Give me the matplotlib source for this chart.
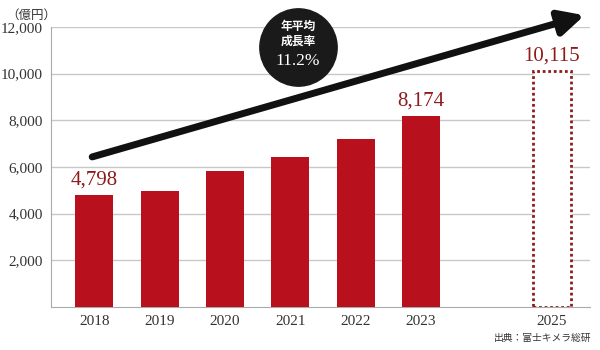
import matplotlib
matplotlib.use('Agg')
import matplotlib.pyplot as plt

# データ（億円）
years = ['2018', '2019', '2020', '2021', '2022', '2023', '2025']
positions = [0, 1, 2, 3, 4, 5, 7]
values = [4798, 4970, 5830, 6420, 7180, 8174, 10115]
labels = {0: '4,798', 5: '8,174', 6: '10,115'}
yticks = [2000, 4000, 6000, 8000, 10000, 12000]

red = '#b8101c'
label_red = '#8e1b1b'
serif = ['Liberation Serif', 'DejaVu Serif']
jp = ['Noto Sans CJK JP', 'DejaVu Sans']

fig = plt.figure(figsize=(6, 3.5), dpi=100)
ax = fig.add_axes([0.085, 0.123, 0.898, 0.8])

# 実績
ax.bar(positions[:-1], values[:-1], width=0.58, color=red, zorder=3)
# 予測（点線）
ax.bar(positions[-1], values[-1], width=0.58, facecolor='white',
       edgecolor=label_red, linestyle=(0, (1, 1)), linewidth=2, zorder=3)

for i, txt in labels.items():
    ax.text(positions[i], values[i] + 250, txt, ha='center', va='bottom',
            fontsize=15, color=label_red, family=serif)

ax.set_xlim(-0.66, 7.58)
ax.set_ylim(0, 12000)
ax.set_yticks(yticks)
ax.set_yticklabels([f'{v:,}' for v in yticks], family=serif, fontsize=11)
ax.set_xticks(positions)
ax.set_xticklabels(years, family=serif, fontsize=11)
ax.tick_params(length=0, pad=6, colors='#333333')
ax.grid(axis='y', color='#c8c8c8', linewidth=1, zorder=0)
for s in ['top', 'right']:
    ax.spines[s].set_visible(False)
for s in ['left', 'bottom']:
    ax.spines[s].set_color('#aaaaaa')

# 成長矢印
ax.annotate('', xy=(7.5, 12500), xytext=(-0.03, 6430),
            arrowprops=dict(arrowstyle='-|>,head_length=1.5,head_width=0.75',
                            color='#111111', lw=5, shrinkA=0, shrinkB=0),
            annotation_clip=False, zorder=5)

# 年平均成長率の円
ax.scatter([3.12], [11140], s=3100, color='#1a1a1a', zorder=6, clip_on=False)
ax.text(3.12, 11700, '年平均\n成長率', ha='center', va='center', color='white',
        fontsize=8.5, family=jp, linespacing=1.1, zorder=7, fontweight='bold')
ax.text(3.12, 10550, '11.2%', ha='center', va='center', color='white',
        fontsize=12.5, family=serif, zorder=7)

fig.text(0.01, 0.975, '（億円）', ha='left', va='top', fontsize=9,
         family=jp, color='#333333')
fig.text(0.985, 0.02, '出典：富士キメラ総研', ha='right', va='bottom',
         fontsize=7, family=jp, color='#333333')

fig.savefig('out.png', dpi=100)
